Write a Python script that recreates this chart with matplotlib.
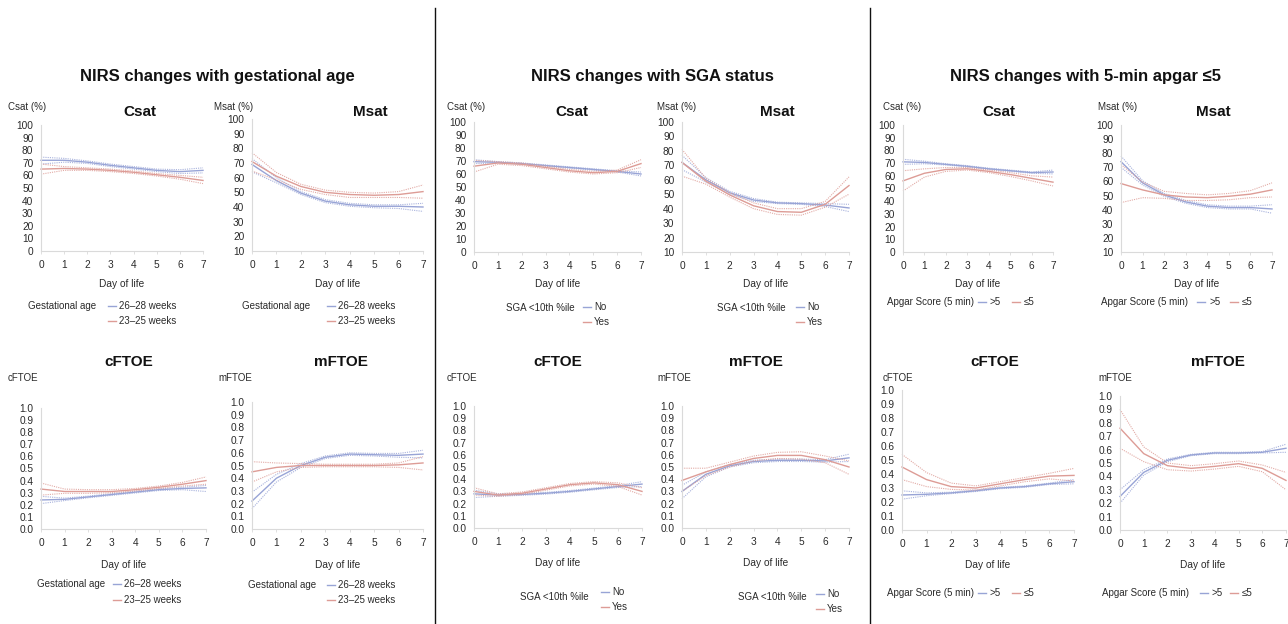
import matplotlib
matplotlib.use("Agg")
import matplotlib.pyplot as plt
from matplotlib.lines import Line2D

plt.rcParams['font.family'] = ['Liberation Sans', 'DejaVu Sans']

days = [0, 1, 2, 3, 4, 5, 6, 7]

# ---- Gestational age (blue = 26-28 weeks, red = 23-25 weeks) ----
ga_csat_b_mean = [72, 72, 70.5, 68, 66, 64, 63, 64]
ga_csat_b_lo = [69, 70.5, 69.5, 67, 65, 63, 61.5, 62]
ga_csat_b_hi = [74.5, 73.5, 71.5, 69, 67, 65, 64.5, 66]
ga_csat_r_mean = [65, 65.5, 65, 64, 62.5, 60.5, 58.5, 56]
ga_csat_r_lo = [61, 64, 64, 63, 61.5, 59.5, 57, 53.5]
ga_csat_r_hi = [69, 67, 66, 65, 63.5, 61.5, 60, 58.5]

ga_msat_b_mean = [69, 58, 49.5, 44, 41.5, 40.5, 40.5, 40]
ga_msat_b_lo = [64, 56.5, 48.5, 43, 40.5, 39.5, 39, 37]
ga_msat_b_hi = [73, 60, 50.5, 45, 42.5, 41.5, 41.5, 42.5]
ga_msat_r_mean = [71, 61, 54, 50, 48.5, 48, 48.5, 50.5]
ga_msat_r_lo = [64.5, 58.5, 52, 48.5, 46.5, 46.5, 46.5, 46]
ga_msat_r_hi = [77, 63.5, 55.5, 51.5, 50, 49.5, 50.5, 55]

ga_cftoe_b_mean = [0.24, 0.245, 0.265, 0.285, 0.305, 0.325, 0.335, 0.34]
ga_cftoe_b_lo = [0.21, 0.235, 0.258, 0.278, 0.298, 0.318, 0.325, 0.31]
ga_cftoe_b_hi = [0.27, 0.255, 0.272, 0.292, 0.312, 0.332, 0.345, 0.36]
ga_cftoe_r_mean = [0.33, 0.31, 0.31, 0.31, 0.325, 0.345, 0.37, 0.40]
ga_cftoe_r_lo = [0.28, 0.295, 0.295, 0.30, 0.315, 0.335, 0.355, 0.37]
ga_cftoe_r_hi = [0.38, 0.33, 0.325, 0.325, 0.335, 0.355, 0.385, 0.43]

ga_mftoe_b_mean = [0.22, 0.40, 0.50, 0.565, 0.59, 0.585, 0.58, 0.59]
ga_mftoe_b_lo = [0.16, 0.37, 0.485, 0.555, 0.58, 0.575, 0.565, 0.56]
ga_mftoe_b_hi = [0.29, 0.43, 0.515, 0.575, 0.60, 0.595, 0.595, 0.62]
ga_mftoe_r_mean = [0.45, 0.485, 0.50, 0.50, 0.50, 0.50, 0.505, 0.52]
ga_mftoe_r_lo = [0.37, 0.45, 0.485, 0.49, 0.49, 0.49, 0.485, 0.465]
ga_mftoe_r_hi = [0.53, 0.52, 0.515, 0.51, 0.51, 0.51, 0.52, 0.57]

# ---- SGA status (blue = No, red = Yes) ----
sga_csat_b_mean = [69.5, 69, 68, 66.5, 65, 63.5, 62, 60]
sga_csat_b_lo = [68, 68.5, 67.5, 66, 64.5, 63, 61.5, 58.5]
sga_csat_b_hi = [71, 69.5, 68.5, 67, 65.5, 64, 62.5, 61.5]
sga_csat_r_mean = [66, 68.5, 67.5, 65, 62.5, 61, 62, 68]
sga_csat_r_lo = [61.5, 67.5, 66.5, 64, 61.5, 60, 61, 65]
sga_csat_r_hi = [70.5, 69.5, 68.5, 66, 63.5, 62, 63, 71]

sga_msat_b_mean = [72, 60, 51, 46, 44, 43.5, 42.5, 40.5]
sga_msat_b_lo = [67, 58.5, 50, 45, 43.5, 43, 41.5, 38]
sga_msat_b_hi = [77, 61.5, 52, 47, 44.5, 44, 43.5, 43]
sga_msat_r_mean = [72, 59, 49.5, 42, 38, 37.5, 43, 56]
sga_msat_r_lo = [62.5, 57, 48, 40, 36, 35.5, 41, 50]
sga_msat_r_hi = [81, 61, 51, 44, 40, 40, 45, 62]

sga_cftoe_b_mean = [0.28, 0.27, 0.275, 0.285, 0.30, 0.32, 0.34, 0.36]
sga_cftoe_b_lo = [0.25, 0.26, 0.268, 0.278, 0.293, 0.313, 0.332, 0.34]
sga_cftoe_b_hi = [0.31, 0.28, 0.282, 0.292, 0.307, 0.327, 0.348, 0.38]
sga_cftoe_r_mean = [0.30, 0.27, 0.285, 0.32, 0.355, 0.37, 0.355, 0.30]
sga_cftoe_r_lo = [0.27, 0.26, 0.275, 0.31, 0.345, 0.36, 0.34, 0.27]
sga_cftoe_r_hi = [0.33, 0.28, 0.295, 0.33, 0.365, 0.38, 0.37, 0.33]

sga_mftoe_b_mean = [0.30, 0.44, 0.51, 0.545, 0.555, 0.555, 0.55, 0.575]
sga_mftoe_b_lo = [0.24, 0.42, 0.50, 0.535, 0.545, 0.545, 0.54, 0.545]
sga_mftoe_b_hi = [0.35, 0.46, 0.52, 0.555, 0.565, 0.565, 0.56, 0.605]
sga_mftoe_r_mean = [0.39, 0.46, 0.52, 0.57, 0.595, 0.595, 0.56, 0.50]
sga_mftoe_r_lo = [0.30, 0.43, 0.50, 0.55, 0.57, 0.565, 0.535, 0.44]
sga_mftoe_r_hi = [0.49, 0.49, 0.54, 0.59, 0.62, 0.625, 0.59, 0.55]

# ---- 5-min Apgar (blue = >5, red = <=5) ----
ap_csat_b_mean = [71, 70.5, 69, 67.5, 65.5, 64, 62.5, 63]
ap_csat_b_lo = [69, 69.5, 68.5, 67, 65, 63.5, 62, 61.5]
ap_csat_b_hi = [73, 71.5, 69.5, 68, 66, 64.5, 63, 64.5]
ap_csat_r_mean = [56, 62, 65, 65.5, 63.5, 61, 58, 55]
ap_csat_r_lo = [48, 59, 63.5, 64.5, 62.5, 59.5, 56, 52]
ap_csat_r_hi = [64, 65.5, 66.5, 66.5, 64.5, 62.5, 60, 59]

ap_msat_b_mean = [74, 59, 50.5, 45.5, 42.5, 41.5, 41.5, 40.5]
ap_msat_b_lo = [70, 57.5, 49.5, 44.5, 41.5, 40.5, 40.5, 37.5]
ap_msat_b_hi = [78, 60.5, 51.5, 46.5, 43.5, 42.5, 42.5, 43.5]
ap_msat_r_mean = [58.5, 54, 50.5, 49, 48.5, 49.5, 51, 54]
ap_msat_r_lo = [45, 48.5, 48, 46.5, 46.5, 47, 48.5, 49]
ap_msat_r_hi = [72, 59.5, 53, 51.5, 50.5, 51.5, 53.5, 59]

ap_cftoe_b_mean = [0.25, 0.255, 0.265, 0.28, 0.30, 0.31, 0.33, 0.345]
ap_cftoe_b_lo = [0.22, 0.245, 0.26, 0.275, 0.295, 0.305, 0.325, 0.33]
ap_cftoe_b_hi = [0.28, 0.265, 0.27, 0.285, 0.305, 0.315, 0.335, 0.36]
ap_cftoe_r_mean = [0.45, 0.36, 0.31, 0.30, 0.33, 0.36, 0.385, 0.39]
ap_cftoe_r_lo = [0.36, 0.31, 0.29, 0.285, 0.315, 0.345, 0.365, 0.35]
ap_cftoe_r_hi = [0.54, 0.41, 0.335, 0.315, 0.345, 0.375, 0.405, 0.44]

ap_mftoe_b_mean = [0.25, 0.43, 0.52, 0.56, 0.575, 0.575, 0.58, 0.61]
ap_mftoe_b_lo = [0.20, 0.41, 0.51, 0.555, 0.57, 0.57, 0.575, 0.58]
ap_mftoe_b_hi = [0.30, 0.45, 0.53, 0.565, 0.58, 0.58, 0.585, 0.64]
ap_mftoe_r_mean = [0.76, 0.57, 0.48, 0.46, 0.475, 0.495, 0.46, 0.37]
ap_mftoe_r_lo = [0.61, 0.51, 0.45, 0.44, 0.455, 0.475, 0.435, 0.30]
ap_mftoe_r_hi = [0.90, 0.62, 0.50, 0.48, 0.495, 0.515, 0.485, 0.43]

group_titles = ["NIRS changes with gestational age", "NIRS changes with SGA status",
                "NIRS changes with 5-min apgar \u22645"]
ga_labels = ["26\u201328 weeks", "23\u201325 weeks"]
sga_labels = ["No", "Yes"]
ap_labels = [">5", "\u22645"]

BLUE = "#98a4d6"
RED = "#dd9c96"
TXT = "#2a2a2a"
AXC = "#dadada"

W, H = 1288, 624
fig = plt.figure(figsize=(W / 100, H / 100), dpi=100)
fig.patch.set_facecolor("white")


def fx(x):
    return x / W


def fy(y):
    return 1 - y / H


def ftext(x, y, s, **kw):
    kw.setdefault("fontsize", 7)
    kw.setdefault("color", TXT)
    kw.setdefault("va", "center")
    fig.text(fx(x), fy(y), s, **kw)


def fline(x0, x1, y0, y1, color, lw=1.0):
    fig.add_artist(Line2D([fx(x0), fx(x1)], [fy(y0), fy(y1)], color=color, lw=lw,
                          transform=fig.transFigure))


def panel(rect, ylim, yticks, fmt, blue, red):
    x0, x1, yt, yb = rect
    ax = fig.add_axes([fx(x0), fy(yb), (x1 - x0) / W, (yb - yt) / H])
    ax.set_xlim(0, 7)
    ax.set_ylim(*ylim)
    ax.set_facecolor("none")
    for s in ["top", "right"]:
        ax.spines[s].set_visible(False)
    for s in ["left", "bottom"]:
        ax.spines[s].set_color(AXC)
        ax.spines[s].set_linewidth(0.8)
    ax.set_xticks(days)
    ax.set_yticks(yticks)
    ax.set_yticklabels([fmt.format(v) for v in yticks])
    ax.tick_params(axis="x", length=2.5, width=0.6, color=AXC, labelsize=7.3,
                   labelcolor=TXT, pad=4)
    ax.tick_params(axis="y", length=0, labelsize=7.3, labelcolor=TXT, pad=5.5)
    for (mean, lo, hi), c in [(blue, BLUE), (red, RED)]:
        ax.plot(days, lo, color=c, lw=0.8, ls=(0, (1, 1)), alpha=0.85, clip_on=False)
        ax.plot(days, hi, color=c, lw=0.8, ls=(0, (1, 1)), alpha=0.85, clip_on=False)
        ax.plot(days, mean, color=c, lw=1.0, clip_on=False)
    pos = ax.get_position()
    return (pos.x0 + pos.x1) / 2


sat_ticks = list(range(0, 101, 10))
msat_ticks = list(range(10, 101, 10))
ftoe_ticks = [i / 10 for i in range(11)]

panels = [
    ((41, 203, 125, 251), (0, 100), sat_ticks, "{:d}",
     (ga_csat_b_mean, ga_csat_b_lo, ga_csat_b_hi), (ga_csat_r_mean, ga_csat_r_lo, ga_csat_r_hi),
     "Csat (%)", (8, 107), "Csat", (140, 112), 284),
    ((252, 423, 119, 251), (10, 100), msat_ticks, "{:d}",
     (ga_msat_b_mean, ga_msat_b_lo, ga_msat_b_hi), (ga_msat_r_mean, ga_msat_r_lo, ga_msat_r_hi),
     "Msat (%)", (214, 107), "Msat", (370, 112), 284),
    ((41, 206, 408, 529), (0, 1), ftoe_ticks, "{:.1f}",
     (ga_cftoe_b_mean, ga_cftoe_b_lo, ga_cftoe_b_hi), (ga_cftoe_r_mean, ga_cftoe_r_lo, ga_cftoe_r_hi),
     "cFTOE", (8, 378), "cFTOE", (129, 362), 565),
    ((252, 423, 402, 529), (0, 1), ftoe_ticks, "{:.1f}",
     (ga_mftoe_b_mean, ga_mftoe_b_lo, ga_mftoe_b_hi), (ga_mftoe_r_mean, ga_mftoe_r_lo, ga_mftoe_r_hi),
     "mFTOE", (218, 378), "mFTOE", (341, 362), 565),
    ((474, 641, 122, 252), (0, 100), sat_ticks, "{:d}",
     (sga_csat_b_mean, sga_csat_b_lo, sga_csat_b_hi), (sga_csat_r_mean, sga_csat_r_lo, sga_csat_r_hi),
     "Csat (%)", (447, 107), "Csat", (572, 112), 284),
    ((682, 849, 122, 252), (10, 100), msat_ticks, "{:d}",
     (sga_msat_b_mean, sga_msat_b_lo, sga_msat_b_hi), (sga_msat_r_mean, sga_msat_r_lo, sga_msat_r_hi),
     "Msat (%)", (657, 107), "Msat", (777, 112), 284),
    ((474, 642, 406, 528), (0, 1), ftoe_ticks, "{:.1f}",
     (sga_cftoe_b_mean, sga_cftoe_b_lo, sga_cftoe_b_hi), (sga_cftoe_r_mean, sga_cftoe_r_lo, sga_cftoe_r_hi),
     "cFTOE", (447, 378), "cFTOE", (558, 362), 563),
    ((682, 849, 406, 528), (0, 1), ftoe_ticks, "{:.1f}",
     (sga_mftoe_b_mean, sga_mftoe_b_lo, sga_mftoe_b_hi), (sga_mftoe_r_mean, sga_mftoe_r_lo, sga_mftoe_r_hi),
     "mFTOE", (657, 378), "mFTOE", (756, 362), 563),
    ((903, 1053, 125, 252), (0, 100), sat_ticks, "{:d}",
     (ap_csat_b_mean, ap_csat_b_lo, ap_csat_b_hi), (ap_csat_r_mean, ap_csat_r_lo, ap_csat_r_hi),
     "Csat (%)", (883, 107), "Csat", (999, 112), 284),
    ((1121, 1272, 125, 252), (10, 100), msat_ticks, "{:d}",
     (ap_msat_b_mean, ap_msat_b_lo, ap_msat_b_hi), (ap_msat_r_mean, ap_msat_r_lo, ap_msat_r_hi),
     "Msat (%)", (1098, 107), "Msat", (1213, 112), 284),
    ((902, 1074, 390, 530), (0, 1), ftoe_ticks, "{:.1f}",
     (ap_cftoe_b_mean, ap_cftoe_b_lo, ap_cftoe_b_hi), (ap_cftoe_r_mean, ap_cftoe_r_lo, ap_cftoe_r_hi),
     "cFTOE", (883, 378), "cFTOE", (995, 362), 565),
    ((1120, 1286, 396, 530), (0, 1), ftoe_ticks, "{:.1f}",
     (ap_mftoe_b_mean, ap_mftoe_b_lo, ap_mftoe_b_hi), (ap_mftoe_r_mean, ap_mftoe_r_lo, ap_mftoe_r_hi),
     "mFTOE", (1098, 378), "mFTOE", (1218, 362), 565),
]

for rect, ylim, ticks, fmt, blue, red, ylab, ylpos, title, tpos, dly in panels:
    cx = panel(rect, ylim, ticks, fmt, blue, red)
    fig.text(cx, fy(dly), "Day of life", ha="center", va="center", fontsize=7.3, color=TXT)
    ftext(ylpos[0], ylpos[1], ylab, ha="left")
    ftext(tpos[0], tpos[1], title, ha="center", fontsize=11, fontweight="bold", color="#111111")

# Group titles and separators
ftext(217, 77, group_titles[0], ha="center", fontsize=12, fontweight="bold", color="#111111")
ftext(652, 77, group_titles[1], ha="center", fontsize=12, fontweight="bold", color="#111111")
ftext(1086, 77, group_titles[2], ha="center", fontsize=12, fontweight="bold", color="#111111")
fline(435, 435, 8, 624, "#111111", lw=1.0)
fline(870, 870, 8, 624, "#111111", lw=1.0)


def legend_two_rows(title, tx, ty, lx, labels, y1, y2):
    ftext(tx, ty, title, ha="left")
    fline(lx, lx + 8, y1, y1, BLUE)
    ftext(lx + 11, y1, labels[0], ha="left")
    fline(lx, lx + 8, y2, y2, RED)
    ftext(lx + 11, y2, labels[1], ha="left")


def legend_one_row(title, tx, ty, lx1, lx2, labels):
    ftext(tx, ty, title, ha="left")
    fline(lx1, lx1 + 8, ty, ty, BLUE)
    ftext(lx1 + 12, ty, labels[0], ha="left")
    fline(lx2, lx2 + 8, ty, ty, RED)
    ftext(lx2 + 12, ty, labels[1], ha="left")


legend_two_rows("Gestational age", 28, 306, 108, ga_labels, 306, 321)
legend_two_rows("Gestational age", 242, 306, 327, ga_labels, 306, 321)
legend_two_rows("Gestational age", 37, 584, 113, ga_labels, 584, 600)
legend_two_rows("Gestational age", 248, 585, 327, ga_labels, 585, 600)

legend_two_rows("SGA <10th %ile", 506, 308, 583, sga_labels, 307, 322)
legend_two_rows("SGA <10th %ile", 717, 308, 796, sga_labels, 307, 322)
legend_two_rows("SGA <10th %ile", 520, 597, 601, sga_labels, 592, 607)
legend_two_rows("SGA <10th %ile", 738, 597, 816, sga_labels, 594, 609)

legend_one_row("Apgar Score (5 min)", 887, 302, 978, 1012, ap_labels)
legend_one_row("Apgar Score (5 min)", 1101, 302, 1197, 1230, ap_labels)
legend_one_row("Apgar Score (5 min)", 887, 593, 978, 1012, ap_labels)
legend_one_row("Apgar Score (5 min)", 1102, 593, 1200, 1230, ap_labels)

fig.savefig("out.png", dpi=100, facecolor="white")
